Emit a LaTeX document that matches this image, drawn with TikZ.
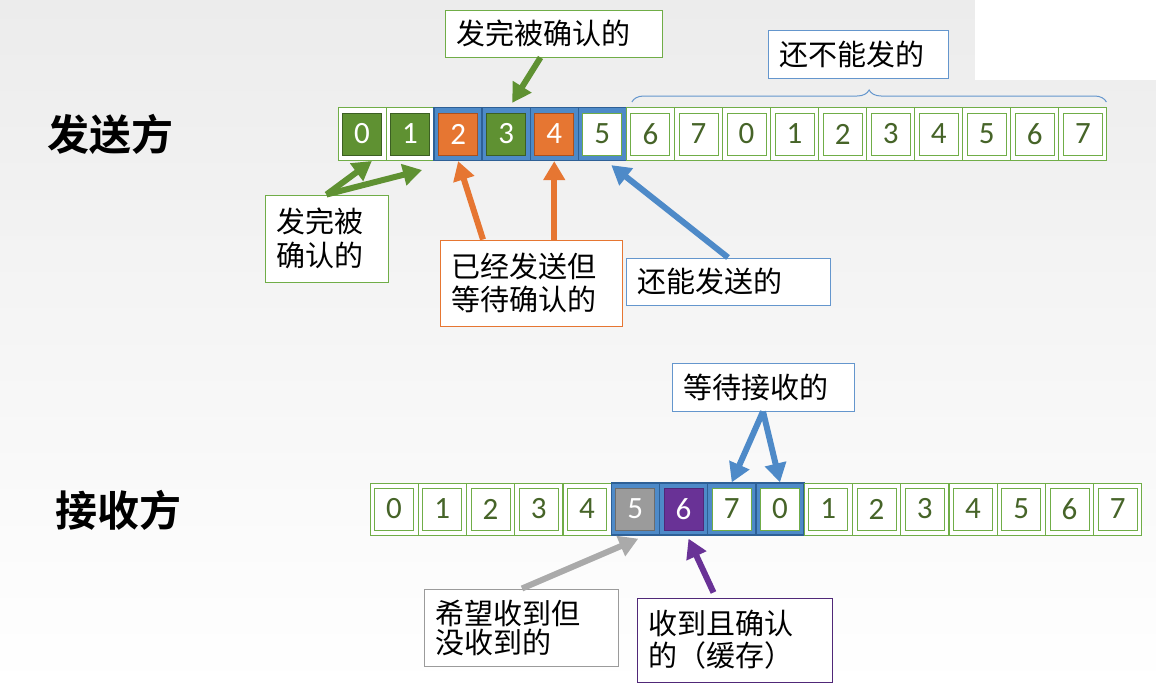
\documentclass[tikz,border=0pt]{standalone}
\usepackage{fontspec}
\setmainfont{Carlito}
\newfontfamily\cjk{Noto Sans CJK SC}
\newfontfamily\cjkb{Noto Sans CJK SC Bold}
\usetikzlibrary{arrows.meta,decorations.pathreplacing,calc}
\definecolor{gbord}{RGB}{112,173,71}
\definecolor{gfill}{RGB}{95,145,50}
\definecolor{gdark}{RGB}{60,95,35}
\definecolor{ofill}{RGB}{230,118,50}
\definecolor{odark}{RGB}{170,80,30}
\definecolor{bfill}{RGB}{78,138,200}
\definecolor{bdark}{RGB}{46,96,150}
\definecolor{bline}{RGB}{100,150,205}
\definecolor{grayf}{RGB}{155,155,155}
\definecolor{graya}{RGB}{170,170,170}
\definecolor{purp}{RGB}{105,50,150}
\definecolor{purpd}{RGB}{80,40,120}
\definecolor{tgreen}{RGB}{70,100,40}
\definecolor{bgtop}{RGB}{236,236,236}
\tikzset{
  cellG/.style={draw=gbord, fill=white, line width=1pt, minimum width=48pt, minimum height=53pt, inner sep=0pt},
  cellB/.style={draw=bdark, fill=bfill, line width=1.3pt, minimum width=48pt, minimum height=53pt, inner sep=0pt},
  inbase/.style={minimum width=39pt, minimum height=42pt, inner sep=0pt, font=\fontsize{31}{31}\selectfont},
  inW/.style={inbase, draw=gbord, fill=white, line width=0.8pt, text=tgreen},
  inG/.style={inbase, draw=gdark, fill=gfill, line width=1pt, text=white},
  inO/.style={inbase, draw=odark, fill=ofill, line width=1pt, text=white},
  inGr/.style={inbase, draw=grayf!70!black, fill=grayf, line width=1pt, text=white},
  inP/.style={inbase, draw=purpd, fill=purp, line width=1pt, text=white},
  lbox/.style={draw, fill=white, line width=1pt, font=\cjk\fontsize{29}{33}\selectfont, align=left, inner xsep=11pt, inner ysep=0pt},
  arr/.style={line width=6pt, -{Triangle[length=19pt,width=21pt]}},
  side/.style={font=\cjkb\fontsize{42}{42}\selectfont}
}
\begin{document}
\begin{tikzpicture}[x=1pt,y=-1pt]
\fill[top color=bgtop, bottom color=white] (0,0) rectangle (1156,688);
\fill[white] (975,0) rectangle (1156,80);
\useasboundingbox (0,0) rectangle (1156,688);

% sender row
\foreach \i/\o/\n in {0/cellG/inG,1/cellG/inG,2/cellB/inO,3/cellB/inG,4/cellB/inO,5/cellB/inW,
  6/cellG/inW,7/cellG/inW,8/cellG/inW,9/cellG/inW,10/cellG/inW,11/cellG/inW,12/cellG/inW,13/cellG/inW,14/cellG/inW,15/cellG/inW}{
  \pgfmathtruncatemacro\lab{mod(\i,8)}
  \node[\o] (s\i) at ({362+48.06*\i},134) {};
  \node[\n] (si\i) at (s\i) {\lab};
}
% receiver row
\foreach \i/\o/\n in {0/cellG/inW,1/cellG/inW,2/cellG/inW,3/cellG/inW,4/cellG/inW,5/cellB/inGr,6/cellB/inP,7/cellB/inW,
  8/cellB/inW,9/cellG/inW,10/cellG/inW,11/cellG/inW,12/cellG/inW,13/cellG/inW,14/cellG/inW,15/cellG/inW}{
  \pgfmathtruncatemacro\lab{mod(\i,8)}
  \node[\o, minimum height=52pt] (r\i) at ({394+48.25*\i},509) {};
  \node[\n] (ri\i) at (r\i) {\lab};
}

% side labels
\node[side] (send) at (110,134) {发送方};
\node[side] (recvside) at (118,510) {接收方};

% label boxes
\node[lbox, draw=gbord, minimum width=217pt, minimum height=47pt, text width=195pt] (top1) at (553.5,33.5) {发完被确认的};
\node[lbox, draw=bline, minimum width=180pt, minimum height=48pt, text width=158pt] (top2) at (858,54) {还不能发的};
\node[lbox, draw=gbord, minimum width=123pt, minimum height=87pt, text width=101pt, font=\cjk\fontsize{29}{34}\selectfont] (ack) at (326.5,238.5) {发完被\\确认的};
\node[lbox, draw=ofill, minimum width=182pt, minimum height=86pt, text width=160pt, font=\cjk\fontsize{29}{33}\selectfont] (wait) at (531,283) {已经发送但\\等待确认的};
\node[lbox, draw=bline, minimum width=204pt, minimum height=47pt, text width=182pt] (can) at (728,281.5) {还能发送的};
\node[lbox, draw=bline, minimum width=182pt, minimum height=48pt, text width=160pt] (rwait) at (763,387) {等待接收的};
\node[lbox, draw=grayf, minimum width=194pt, minimum height=77pt, text width=172pt, font=\cjk\fontsize{29}{29}\selectfont] (miss) at (521,627.5) {希望收到但\\没收到的};
\node[lbox, draw=purpd, minimum width=195pt, minimum height=84pt, text width=173pt, font=\cjk\fontsize{29}{32}\selectfont] (recv) at (734.5,640) {收到且确认\\的（缓存）};

% brace
\draw[decorate, decoration={brace, amplitude=12pt}, bline, line width=1pt]
  ($(s6.north west)+(6,-5)$) coordinate (bl) -- ($(s15.north east)+(-1,-5)$) coordinate (br);

% arrows
\draw[arr, gfill] ($(top1.south)+(-13,0)$) -- ($(s3.north)+(6,-4)$);
\draw[arr, gfill] (ack.north) -- (s0.-70);
\draw[arr, gfill] (ack.north) -- ($(s1.south)+(12,9)$);
\draw[arr, ofill] ($(wait.north)+(-48,0)$) -- (s2.south);
\draw[arr, ofill] (s4.south |- wait.north) -- (s4.south);
\draw[arr, bfill] (can.north) -- ($(s5.south)+(9,4)$);
\draw[arr, bfill] (rwait.south) -- (r7.north);
\draw[arr, bfill] (rwait.south) -- (r8.north);
\draw[arr, graya] ($(miss.north)+(1,0)$) -- ($(r5.south)+(3,3)$);
\draw[arr, purp] ($(recv.north)+(-21,-5)$) -- ($(r6.south)+(5,3)$);
\end{tikzpicture}
\end{document}
